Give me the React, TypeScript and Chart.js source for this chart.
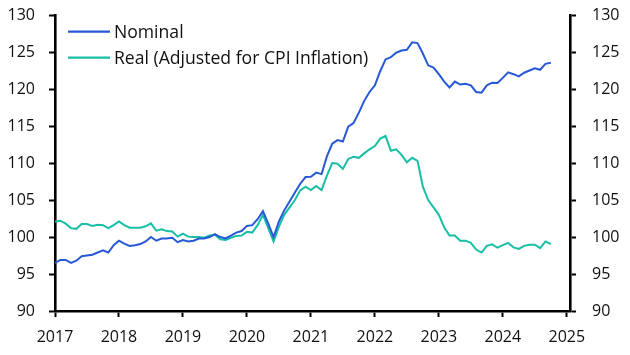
import React, { useEffect, useRef } from "react";
import { Chart, registerables } from "chart.js";

Chart.register(...registerables);

const startYear = 2017;
const yearTicks = [2017, 2018, 2019, 2020, 2021, 2022, 2023, 2024, 2025];
const valueTicks = [90, 95, 100, 105, 110, 115, 120, 125, 130];
const seriesNames = ["Nominal", "Real (Adjusted for CPI Inflation)"];

// Monthly, Jan 2017 .. Oct 2024
const nominal = [
  96.5, 96.9, 96.9, 96.5, 96.8, 97.4, 97.5, 97.6, 97.9, 98.2, 97.9, 98.9,
  99.5, 99.1, 98.8, 98.9, 99.05, 99.4, 100.0, 99.5, 99.8, 99.8, 99.9, 99.3,
  99.6, 99.4, 99.5, 99.8, 99.8, 100.0, 100.4, 100.0, 99.8, 100.2, 100.6, 100.8,
  101.5, 101.6, 102.4, 103.5, 101.8, 100.0, 102.1, 103.6, 104.8, 106.0, 107.2, 108.1,
  108.15, 108.7, 108.5, 110.9, 112.6, 113.1, 112.9, 114.9, 115.4, 116.8, 118.4, 119.6,
  120.5, 122.4, 124.0, 124.3, 124.9, 125.2, 125.3, 126.3, 126.2, 124.8, 123.2, 122.9,
  122.0, 121.0, 120.2, 121.0, 120.6, 120.7, 120.5, 119.6, 119.5, 120.5, 120.85, 120.8,
  121.5, 122.25, 122.0, 121.7, 122.2, 122.5, 122.8, 122.6, 123.4, 123.55,
];

const real = [
  102.1, 102.2, 101.8, 101.2, 101.1, 101.75, 101.75, 101.5, 101.65, 101.6, 101.2, 101.6,
  102.1, 101.6, 101.25, 101.25, 101.25, 101.45, 101.85, 100.85, 101.05, 100.8, 100.75, 100.05,
  100.45, 100.05, 100.0, 100.0, 99.9, 100.2, 100.3, 99.7, 99.6, 99.9, 100.15, 100.2,
  100.7, 100.6, 101.6, 103.0, 101.2, 99.4, 101.4, 103.0, 104.0, 105.0, 106.3, 106.8,
  106.35, 106.9, 106.35, 108.3, 110.0, 109.9, 109.2, 110.55, 110.85, 110.7, 111.3, 111.85,
  112.3, 113.3, 113.65, 111.65, 111.85, 111.1, 110.1, 110.7, 110.3, 106.8, 105.0, 104.0,
  103.0, 101.3, 100.2, 100.2, 99.5, 99.5, 99.2, 98.3, 97.9, 98.8, 99.0, 98.55,
  98.9, 99.2, 98.6, 98.4, 98.8, 98.95, 98.95, 98.5, 99.4, 99.05,
];

const colors = ["#2758D6", "#18BEA6"];
const FONT = "'Open Sans', 'Noto Sans', sans-serif";
const TEXT = "#111111";

const toPoints = (arr: number[]) =>
  arr.map((y, i) => ({ x: startYear + i / 12, y }));

const legendPlugin = {
  id: "insideLegend",
  afterDraw(chart: any) {
    const ctx = chart.ctx;
    ctx.save();
    ctx.font = `17.6px ${FONT}`;
    ctx.textBaseline = "middle";
    ctx.textAlign = "left";
    const rows = [31.7, 57.7];
    chart.data.datasets.forEach((ds: any, i: number) => {
      const y = rows[i];
      ctx.strokeStyle = ds.borderColor;
      ctx.lineWidth = 2.2;
      ctx.beginPath();
      ctx.moveTo(68, y);
      ctx.lineTo(110, y);
      ctx.stroke();
      ctx.fillStyle = TEXT;
      ctx.fillText(ds.label, 114, y + 1);
    });
    ctx.restore();
  },
};

const zeroPad = (scale: any) => {
  scale.paddingTop = 0;
  scale.paddingBottom = 0;
  scale.paddingLeft = 0;
  scale.paddingRight = 0;
};

export default function App() {
  const ref = useRef<HTMLCanvasElement | null>(null);

  useEffect(() => {
    if (!ref.current) return;
    const axisCommon = {
      border: { display: true, color: "#000", width: 2.6 },
      grid: {
        display: true,
        drawOnChartArea: false,
        drawTicks: true,
        tickLength: 6,
        tickColor: "#000",
        tickWidth: 2,
      },
    };
    const chart = new Chart(ref.current, {
      type: "line",
      data: {
        datasets: [
          {
            label: seriesNames[0],
            data: toPoints(nominal),
            borderColor: colors[0],
            backgroundColor: colors[0],
            borderWidth: 2,
            pointRadius: 0,
            tension: 0,
            yAxisID: "y",
          },
          {
            label: seriesNames[1],
            data: toPoints(real),
            borderColor: colors[1],
            backgroundColor: colors[1],
            borderWidth: 2,
            pointRadius: 0,
            tension: 0,
            yAxisID: "y",
          },
        ],
      },
      options: {
        animation: false,
        responsive: false,
        devicePixelRatio: 1,
        layout: { padding: { top: 15, left: 0, right: 0, bottom: 0 } },
        plugins: { legend: { display: false }, tooltip: { enabled: false } },
        scales: {
          x: {
            type: "linear",
            min: 2017,
            max: 2025.05,
            ...axisCommon,
            ticks: {
              color: TEXT,
              font: { family: FONT, size: 16 },
              padding: 11,
              maxRotation: 0,
              callback: (v: any) => String(v),
            },
            afterBuildTicks: (scale: any) => {
              scale.ticks = yearTicks.map((v) => ({ value: v }));
            },
            afterFit: (scale: any) => {
              scale.height = 44;
              zeroPad(scale);
            },
          },
          y: {
            type: "linear",
            position: "left",
            min: 90,
            max: 130,
            ...axisCommon,
            ticks: {
              color: TEXT,
              font: { family: FONT, size: 16 },
              padding: 14,
            },
            afterBuildTicks: (scale: any) => {
              scale.ticks = valueTicks.map((v) => ({ value: v }));
            },
            afterFit: (scale: any) => {
              scale.width = 55;
              zeroPad(scale);
            },
          },
          y2: {
            type: "linear",
            position: "right",
            min: 90,
            max: 130,
            ...axisCommon,
            ticks: {
              color: TEXT,
              font: { family: FONT, size: 16 },
              padding: 16,
            },
            afterBuildTicks: (scale: any) => {
              scale.ticks = valueTicks.map((v) => ({ value: v }));
            },
            afterFit: (scale: any) => {
              scale.width = 60;
              zeroPad(scale);
            },
          },
        },
      },
      plugins: [legendPlugin],
    });
    return () => chart.destroy();
  }, []);

  return (
    <div
      style={{
        position: "fixed",
        left: 0,
        top: 0,
        width: 630,
        height: 355,
        background: "#fff",
      }}
    >
      <canvas ref={ref} width={630} height={355} />
    </div>
  );
}
